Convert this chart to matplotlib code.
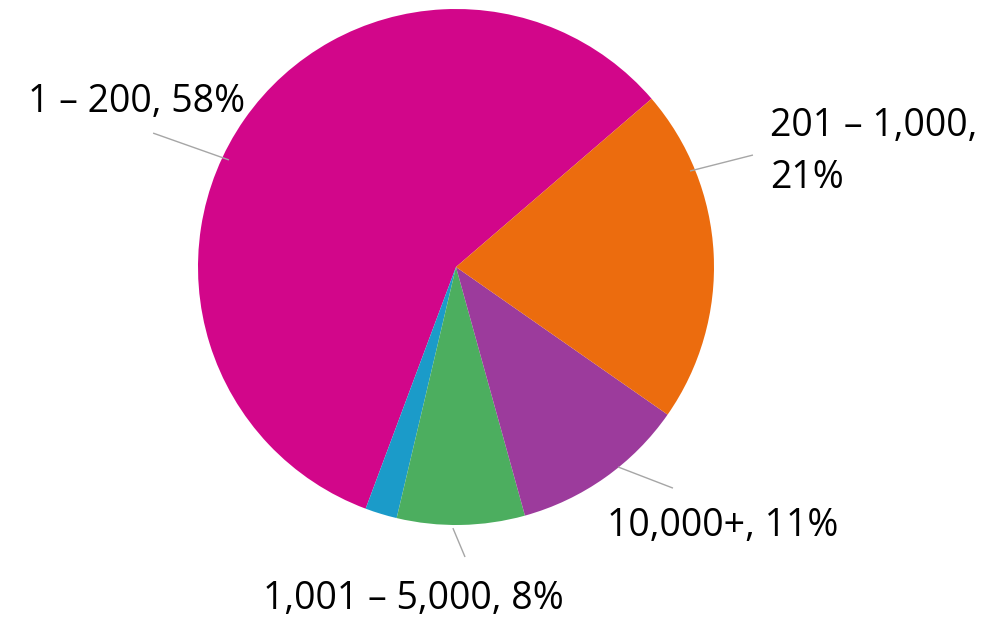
import matplotlib
matplotlib.use("Agg")
import matplotlib.pyplot as plt

# Share of organisations by size band
categories = ["1 – 200", "5,001 – 10,000", "1,001 – 5,000", "10,000+", "201 – 1,000"]
shares = [58, 2, 8, 11, 21]
show_label = [True, False, True, True, True]
colors = ["#D2068A", "#1B9BC9", "#4CAE5F", "#9C3B9C", "#EC6C0E"]

# Label placement (data units, pie radius = 1; y is the baseline of the last line)
label_pos = {
    "1 – 200": (-1.659, 0.601),
    "1,001 – 5,000": (-0.748, -1.325),
    "10,000+": (0.585, -1.043),
    "201 – 1,000": (1.217, 0.306),
}
leaders = {
    "1 – 200": ((-1.174, 0.519), (-0.880, 0.415)),
    "1,001 – 5,000": ((-0.012, -1.012), (0.035, -1.124)),
    "10,000+": ((0.628, -0.775), (0.841, -0.857)),
    "201 – 1,000": ((0.907, 0.372), (1.151, 0.434)),
}
wrap_after_comma = {"201 – 1,000"}

W, H = 984, 620
cx, cy, r = 456, 267, 258

fig = plt.figure(figsize=(W / 100, H / 100), dpi=100)
fig.patch.set_facecolor("white")
ax = fig.add_axes([(cx - r) / W, (H - cy - r) / H, 2 * r / W, 2 * r / H])

ax.pie(shares, colors=colors, startangle=40.7, counterclock=True,
       radius=1, wedgeprops=dict(linewidth=0))
ax.set_xlim(-1, 1)
ax.set_ylim(-1, 1)
ax.set_aspect("equal")
ax.axis("off")

font = dict(family=["Open Sans", "DejaVu Sans"], size=27, color="black")
for cat, val, show in zip(categories, shares, show_label):
    if not show:
        continue
    sep = ",\n" if cat in wrap_after_comma else ", "
    text = f"{cat}{sep}{val}%"
    x, y = label_pos[cat]
    ax.text(x, y, text, ha="left", va="baseline", linespacing=1.47,
            clip_on=False, **font)
    (x1, y1), (x2, y2) = leaders[cat]
    ax.plot([x1, x2], [y1, y2], color="#A6A6A6", lw=1.0, clip_on=False,
            solid_capstyle="butt")

fig.savefig("out.png", dpi=100, facecolor="white")
